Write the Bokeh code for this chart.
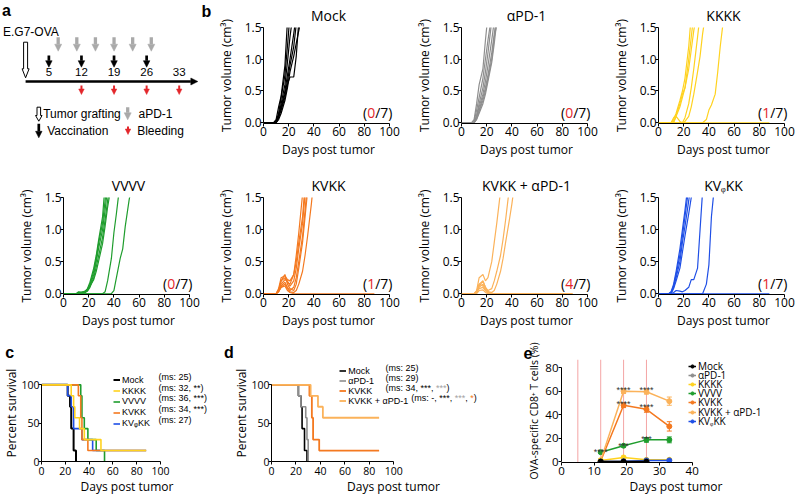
from bokeh.plotting import figure
from bokeh.layouts import column, row
from bokeh.models import (Range1d, Label, Legend, LegendItem, Span, Whisker, TeeHead,
                          ColumnDataSource, FixedTicker, NumeralTickFormatter, Arrow, NormalHead)
from bokeh.core.properties import value
from bokeh.embed import file_html
from bokeh.resources import INLINE

NAN = float("nan")

# ======================= DATA =======================
# panel a : schedule (days)
GRAFT_DAY = 0
VACC_DAYS = [5, 12, 19, 26]
APD1_DAYS = [7, 11, 15, 19, 23, 27]
BLEED_DAYS = [12, 19, 26, 33]
TIMELINE_LABEL_DAYS = [5, 12, 19, 26, 33]
TIMELINE_END_DAY = 37

# panel b : tumour volumes (cm3) per mouse, sampled on TUMOR_DAYS
TUMOR_DAYS = [0, 8, 10, 12, 14, 17, 19, 21, 24, 26, 28, 31, 33, 35, 38, 40, 42, 45, 47, 49, 52,
              56, 59, 63, 66, 70, 73, 77, 80, 84, 88]
MOCK_TUMOR = [
    [0, 0, 0.05, 0.25, 0.42, 0.90, 1.60],
    [0, 0, 0.02, 0.15, 0.40, 0.75, 1.20, 1.70],
    [0, 0, 0.00, 0.10, 0.30, 0.60, 0.95, 1.35, 1.80],
    [0, 0, 0.00, 0.12, 0.25, 0.50, 0.75, 1.00, 1.40, 1.70],
    [0, 0, 0.02, 0.10, 0.22, 0.45, 0.65, 0.90, 1.20, 1.55],
    [0, 0, 0.00, 0.08, 0.20, 0.40, 0.60, 0.72, 0.72, 1.05, 1.60],
    [0, 0, 0.00, 0.05, 0.15, 0.35, 0.55, 0.80, 1.05, 1.25, 1.45, 1.75],
]
APD1_TUMOR = [
    [0, 0, 0.05, 0.30, 0.60, 0.85, 1.30, 1.70],
    [0, 0, 0.02, 0.20, 0.40, 0.70, 1.00, 1.30, 1.70],
    [0, 0, 0.00, 0.12, 0.30, 0.55, 0.80, 1.10, 1.60],
    [0, 0, 0.00, 0.10, 0.25, 0.45, 0.65, 0.90, 1.30, 1.60],
    [0, 0, 0.00, 0.08, 0.20, 0.40, 0.55, 0.75, 1.10, 1.40, 1.70],
    [0, 0, 0.00, 0.05, 0.15, 0.30, 0.45, 0.65, 0.95, 1.25, 1.60],
    [0, 0, 0.00, 0.06, 0.18, 0.35, 0.50, 0.70, 1.00, 1.35, 1.55],
]
KKKK_TUMOR = [
    [0, 0, 0, 0.05, 0.15, 0.35, 0.50, 0.70, 1.20, 1.70],
    [0, 0, 0, 0.08, 0.12, 0.30, 0.45, 0.55, 1.00, 1.35, 1.70],
    [0, 0, 0, 0.02, 0.10, 0.25, 0.40, 0.55, 0.85, 1.15, 1.45, 1.80],
    [0, 0, 0, 0, 0.10, 0.02, 0, 0.08, 0.30, 0.55, 0.85, 1.35, 1.70],
    [0, 0, 0, 0, 0, 0, 0, 0.02, 0.10, 0.25, 0.45, 0.80, 1.05, 1.40, 1.80],
    [0, 0, 0, 0, 0, 0, 0, 0, 0, 0, 0, 0, 0, 0, 0.05, 0.20, 0.28, 0.45, 0.80, 1.20, 1.70],
    [0, 0, 0, 0, 0, 0, 0, 0, 0, 0, 0, 0, 0, 0, 0, 0, 0, 0, 0, 0, 0, 0, 0, 0, 0, 0, 0, 0, 0, 0, 0],
]
VVVV_TUMOR = [
    [0, 0, 0, 0.02, 0.02, 0.03, 0.08, 0.18, 0.40, 0.60, 0.85, 1.20, 1.70],
    [0, 0, 0, 0.03, 0.02, 0.04, 0.07, 0.15, 0.35, 0.55, 0.80, 1.10, 1.45, 1.80],
    [0, 0, 0, 0, 0.01, 0.02, 0.05, 0.12, 0.30, 0.50, 0.72, 1.00, 1.30, 1.65],
    [0, 0, 0, 0, 0, 0.02, 0.04, 0.10, 0.25, 0.42, 0.60, 0.88, 1.15, 1.45, 1.85],
    [0, 0, 0, 0.01, 0.02, 0.03, 0.06, 0.12, 0.22, 0.35, 0.52, 0.78, 1.05, 1.35, 1.70],
    [0, 0, 0, 0, 0, 0, 0, 0, 0, 0, 0, 0, 0.03, 0.20, 0.55, 0.95, 1.25, 1.75],
    [0, 0, 0, 0, 0, 0, 0, 0, 0, 0, 0, 0, 0, 0, 0, 0.05, 0.25, 0.55, 0.70, 1.05, 1.45, 1.90],
]
KVKK_TUMOR = [
    [0, 0, 0, 0.05, 0.20, 0.25, 0.18, 0.15, 0.30, 0.60, 0.95, 1.55],
    [0, 0, 0, 0.08, 0.25, 0.28, 0.22, 0.20, 0.30, 0.50, 0.80, 1.20, 1.70],
    [0, 0, 0, 0.05, 0.15, 0.22, 0.20, 0.12, 0.20, 0.40, 0.70, 1.10, 1.55],
    [0, 0, 0, 0.03, 0.12, 0.18, 0.10, 0.05, 0.10, 0.25, 0.50, 0.90, 1.30, 1.75],
    [0, 0, 0, 0.06, 0.20, 0.30, 0.15, 0.08, 0.05, 0.15, 0.40, 0.80, 1.20, 1.60],
    [0, 0, 0, 0.04, 0.10, 0.15, 0.08, 0.03, 0.02, 0.05, 0.15, 0.35, 0.60, 0.90, 1.40, 1.80],
    [0, 0, 0, 0.03, 0.10, 0.12, 0.05, 0.02, 0, 0, 0, 0, 0, 0, 0, 0, 0, 0, 0, 0, 0, 0, 0, 0, 0, 0, 0, 0, 0, 0, 0],
]
KVKK_APD1_TUMOR = [
    [0, 0, 0, 0.05, 0.25, 0.30, 0.20, 0.25, 0.50, 0.80, 1.10, 1.60],
    [0, 0, 0, 0.03, 0.15, 0.20, 0.10, 0.05, 0.08, 0.20, 0.35, 0.60, 0.85, 1.15, 1.65],
    [0, 0, 0, 0.02, 0.10, 0.15, 0.08, 0.03, 0.02, 0.05, 0.15, 0.35, 0.55, 0.80, 1.15, 1.40, 1.70],
    [0, 0, 0, 0.03, 0.12, 0.20, 0.10, 0.04, 0, 0, 0, 0, 0, 0, 0, 0, 0, 0, 0, 0, 0, 0, 0, 0, 0, 0, 0, 0, 0, 0, 0],
    [0, 0, 0, 0.02, 0.08, 0.10, 0.05, 0, 0, 0, 0, 0, 0, 0, 0, 0, 0, 0, 0, 0, 0, 0, 0, 0, 0, 0, 0, 0, 0, 0, 0],
    [0, 0, 0, 0.04, 0.15, 0.12, 0.06, 0.02, 0, 0, 0, 0, 0, 0, 0, 0, 0, 0, 0, 0, 0, 0, 0, 0, 0, 0, 0, 0, 0, 0, 0],
    [0, 0, 0, 0, 0.05, 0.06, 0.02, 0, 0, 0, 0, 0, 0, 0, 0, 0, 0, 0, 0, 0, 0, 0, 0, 0, 0, 0, 0, 0, 0, 0, 0],
]
KVPHIKK_TUMOR = [
    [0, 0, 0.03, 0.15, 0.35, 0.70, 1.00, 1.30, 1.80],
    [0, 0, 0.02, 0.12, 0.30, 0.60, 0.90, 1.20, 1.65],
    [0, 0, 0.02, 0.10, 0.25, 0.50, 0.80, 1.05, 1.45, 1.75],
    [0, 0, 0, 0.08, 0.20, 0.40, 0.65, 0.90, 1.25, 1.50, 1.80],
    [0, 0, 0, 0.02, 0.05, 0.04, 0.03, 0.05, 0.10, 0.22, 0.22, 0.40, 1.00, 1.60],
    [0, 0, 0, 0, 0, 0, 0, 0, 0, 0, 0, 0, 0, 0, 0.15, 0.45, 1.20, 1.80],
    [0, 0, 0, 0, 0, 0, 0, 0, 0, 0, 0, 0, 0, 0, 0, 0, 0, 0, 0, 0, 0, 0, 0, 0, 0, 0, 0, 0, 0, 0, 0],
]
B_TITLES = ["Mock", "αPD-1", "KKKK", "VVVV", "KVKK", "KVKK + αPD-1", "KVᵩKK"]
B_SURVIVORS = [0, 0, 1, 0, 1, 4, 1]
MICE_PER_GROUP = 7
B_XTICKS = [0, 20, 40, 60, 80, 100]
B_YTICKS = [0, 0.5, 1.0, 1.5]

# panels c, d : Kaplan-Meier survival (days, percent)
SURV_MOCK_T = [0, 22, 24, 25, 27, 29]
SURV_MOCK_P = [100, 85.7, 71.4, 42.9, 14.3, 0]
SURV_APD1_T = [0, 22, 24, 28, 29, 30]
SURV_APD1_P = [100, 85.7, 71.4, 57.1, 28.6, 0]
SURV_KKKK_T = [0, 25, 27, 28, 32, 36, 50, 88]
SURV_KKKK_P = [100, 85.7, 71.4, 57.1, 42.9, 28.6, 14.3, 14.3]
SURV_VVVV_T = [0, 33, 34, 36, 39, 46, 53]
SURV_VVVV_P = [100, 85.7, 57.1, 42.9, 28.6, 14.3, 0]
SURV_KVKK_T = [0, 31, 33, 34, 39, 88]
SURV_KVKK_P = [100, 85.7, 57.1, 28.6, 14.3, 14.3]
SURV_KVKK_APD1_T = [0, 32, 38, 42, 88]
SURV_KVKK_APD1_P = [100, 85.7, 71.4, 57.1, 57.1]
SURV_KVPHIKK_T = [0, 22, 25, 27, 34, 43, 88]
SURV_KVPHIKK_P = [100, 85.7, 71.4, 42.9, 28.6, 14.3, 14.3]
SURV_XTICKS = [0, 20, 40, 60, 80, 100]
SURV_YTICKS = [0, 50, 100]
C_LEGEND = ["Mock", "KKKK", "VVVV", "KVKK", "KVᵩKK"]
C_MS = ["(ms: 25)", "(ms: 32, **)", "(ms: 36, ***)", "(ms: 34, ***)", "(ms: 27)"]
D_LEGEND = ["Mock", "αPD-1", "KVKK", "KVKK + αPD-1"]
D_MS = ["(ms: 25)", "(ms: 29)", "(ms: 34, ***,", "(ms: -, ***,"]

# panel e : OVA-specific CD8+ T cells (%)
E_DAYS = [12, 19, 26, 33]
E_MOCK = [0, 0, 0, NAN]
E_APD1 = [0, 0, 0, NAN]
E_KKKK = [1.0, 3.5, 1.5, 1.5]
E_KKKK_ERR = [0.5, 1.0, 0.5, 0.5]
E_VVVV = [8.0, 13.5, 18.5, 18.5]
E_VVVV_ERR = [1.0, 1.0, 2.0, 2.5]
E_KVKK = [0.5, 48.0, 44.5, 30.0]
E_KVKK_ERR = [0.3, 2.0, 2.5, 4.0]
E_KVKK_APD1 = [1.0, 60.0, 59.5, 51.5]
E_KVKK_APD1_ERR = [0.3, 2.0, 2.0, 3.5]
E_KVPHIKK = [0, 0.3, 1.0, 1.0]
E_KVPHIKK_ERR = [0, 0.2, 0.3, 0.3]
E_STAR_GROUP = ["VVVV", "VVVV", "VVVV", "KVKK", "KVKK", "KVKK + αPD-1", "KVKK + αPD-1"]
E_STAR_DAY = [12, 19, 26, 19, 26, 19, 26]
E_STAR_TEXT = ["****", "***", "***", "****", "****", "****", "****"]
E_XTICKS = [0, 10, 20, 30, 40]
E_YTICKS = [0, 20, 40, 60, 80]

# ======================= STYLE =======================
SANS = "Open Sans"
ARIAL = "Liberation Sans"
COL = {"Mock": "#000000", "αPD-1": "#8e8e8e", "KKKK": "#ffd21f", "VVVV": "#1f9d2d",
       "KVKK": "#f47920", "KVKK + αPD-1": "#fbb25a", "KVᵩKK": "#1f4fe6"}
RED = "#e3262b"
GRAY_ARROW = "#a9a9a9"
STAR_GRAY = "#a3a3a3"

ARIAL_W = {' ': 278, '(': 333, ')': 333, ',': 278, ':': 278, '*': 389, '-': 333, '+': 584,
           'm': 833, 's': 500, 'K': 667, 'V': 667, 'P': 667, 'D': 722, 'α': 579, 'M': 833,
           'o': 556, 'c': 500, 'k': 500}


def text_w(s, px):
    return sum(ARIAL_W.get(ch, 556) for ch in s) / 1000.0 * px


def new_fig(w, h, bl, br, bt, bb, xr, yr, title=None):
    p = figure(title=title, width=w, height=h, x_range=Range1d(*xr), y_range=Range1d(*yr),
               min_border_left=bl, min_border_right=br, min_border_top=bt, min_border_bottom=bb,
               output_backend="svg", toolbar_location=None, align="start")
    p.outline_line_color = None
    p.grid.visible = False
    p.background_fill_color = "white"
    p.border_fill_color = "white"
    return p


def style_axes(p, xticks, yticks, xlab, ylab, tick_size, title_size, xls, xas, yls, yas, xb, yb):
    p.xaxis.ticker = FixedTicker(ticks=xticks)
    p.yaxis.ticker = FixedTicker(ticks=yticks)
    p.xaxis.axis_label = xlab
    p.yaxis.axis_label = ylab
    p.xaxis.bounds = xb
    p.yaxis.bounds = yb
    for ax in list(p.xaxis) + list(p.yaxis):
        ax.axis_line_color = "black"
        ax.axis_line_width = 1
        ax.major_tick_line_color = "black"
        ax.major_tick_out = 3
        ax.major_tick_in = 0
        ax.minor_tick_line_color = None
        ax.major_label_text_font = SANS
        ax.major_label_text_font_size = tick_size
        ax.major_label_text_color = "black"
        ax.axis_label_text_font = SANS
        ax.axis_label_text_font_size = title_size
        ax.axis_label_text_font_style = "normal"
        ax.axis_label_text_color = "black"
    p.xaxis.major_label_standoff = xls
    p.xaxis.axis_label_standoff = xas
    p.yaxis.major_label_standoff = yls
    p.yaxis.axis_label_standoff = yas


def letter_title(p, offset, standoff):
    p.title.text_font = ARIAL
    p.title.text_font_size = "16px"
    p.title.text_font_style = "bold"
    p.title.text_color = "black"
    p.title.align = "left"
    p.title.offset = offset
    p.title.standoff = standoff


def slabel(p, x, y, text, font, size, color="black", align="left", baseline="middle"):
    p.add_layout(Label(x=x, y=y, x_units="screen", y_units="screen", text=text, text_font=font,
                       text_font_size=size, text_color=color, text_align=align,
                       text_baseline=baseline))


def legend_row(p, renderers, text, vx, cy_up, font, size, gw, gh):
    p.add_layout(Legend(items=[LegendItem(label=value(text), renderers=renderers)],
                        location=(vx, cy_up - gh / 2.0), orientation="vertical",
                        padding=0, margin=0, spacing=0, border_line_color=None,
                        background_fill_alpha=0, glyph_width=gw, glyph_height=gh,
                        label_height=gh, label_standoff=2, label_text_font=font,
                        label_text_font_size=size, label_text_color="black",
                        label_text_baseline="middle"))
    return vx + gw + 2


# ======================= PANEL a =======================
A_W, A_H = 213, 168
A_PXD = 4.655
A_DAY0 = 25.1


def a_day(px):
    return (px - A_DAY0) / A_PXD


fa = figure(width=A_W, height=A_H, min_border=0, min_border_left=0, min_border_right=0,
            min_border_top=0, min_border_bottom=0, title=None,
            x_range=Range1d(a_day(0), a_day(A_W)), y_range=Range1d(A_H, 0),
            x_axis_location=None, y_axis_location=None, output_backend="svg",
            toolbar_location=None, align="start")
fa.grid.visible = False
fa.outline_line_color = None


def block_arrow(xc, top, head_y, tip, shaft_w, head_w):
    hs = shaft_w / 2.0 / A_PXD
    hh = head_w / 2.0 / A_PXD
    return ([xc - hs, xc + hs, xc + hs, xc + hh, xc, xc - hh, xc - hs],
            [top, top, head_y, head_y, tip, head_y, head_y])


def arrows(p, xs, y0, y1, color, width, head):
    src = ColumnDataSource(dict(x=xs, y0=[y0] * len(xs), y1=[y1] * len(xs)))
    p.add_layout(Arrow(end=NormalHead(size=head, fill_color=color, line_color=color, line_width=0.5),
                       x_start="x", y_start="y0", x_end="x", y_end="y1", source=src,
                       line_color=color, line_width=width))


gx1, gy1 = block_arrow(GRAFT_DAY, 41.7, 68.3, 77.3, 4.0, 7.0)
gx2, gy2 = block_arrow(a_day(38.3), 106.7, 115.0, 120.7, 3.6, 6.5)
fa.patches(xs=[gx1, gx2], ys=[gy1, gy2], fill_color="white", line_color="black", line_width=1)
arrows(fa, APD1_DAYS, 36.7, 50.7, GRAY_ARROW, 3.3, 7)
arrows(fa, VACC_DAYS, 55.0, 66.7, "black", 2.7, 6.5)
arrows(fa, BLEED_DAYS, 85.0, 94.0, RED, 2.0, 5.5)
arrows(fa, [a_day(127.2)], 106.7, 119.3, GRAY_ARROW, 3.3, 7)
arrows(fa, [a_day(38.3)], 123.3, 137.3, "black", 2.7, 6.5)
arrows(fa, [a_day(127.5)], 126.0, 134.0, RED, 2.0, 5.5)
fa.add_layout(Arrow(end=NormalHead(size=7, fill_color="black", line_color="black", line_width=0.5),
                    x_start=GRAFT_DAY, y_start=81.0, x_end=TIMELINE_END_DAY, y_end=81.0,
                    line_color="black", line_width=2.7))
fa.text(x=TIMELINE_LABEL_DAYS, y=[71.8] * len(TIMELINE_LABEL_DAYS),
        text=[str(d) for d in TIMELINE_LABEL_DAYS], text_align="center", text_baseline="middle",
        text_font=value(ARIAL), text_font_size=value("11.5px"), text_color="black")


def a_text(px, py, text, size="12px", bold=False, align="left"):
    fa.add_layout(Label(x=a_day(px), y=py, text=text, text_font=ARIAL, text_font_size=size,
                        text_align=align, text_baseline="middle", text_color="black",
                        text_font_style="bold" if bold else "normal"))


a_text(6.0, 9.5, "a", size="16px", bold=True, align="center")
a_text(206.0, 10.5, "b", size="16px", bold=True, align="center")
a_text(2.5, 31.7, "E.G7-OVA")
a_text(42.7, 113.3, "Tumor grafting")
a_text(138.0, 113.3, "aPD-1")
a_text(46.7, 130.0, "Vaccination")
a_text(136.7, 130.0, "Bleeding")

# ======================= PANEL b =======================
B_FW = 130           # frame width in px; the 0-100 day axis occupies 126 px of it
B_XMAX = 100 * B_FW / 126.0


def tumor_fig(idx, vols, w, bl, br, h, bt, bb):
    name = B_TITLES[idx]
    p = new_fig(w, h, bl, br, bt, bb, (0, B_XMAX), (-0.012, 1.5), title=name)
    p.title.text_font = SANS
    p.title.text_font_size = "14px"
    p.title.text_font_style = "normal"
    p.title.text_color = "black"
    p.title.align = "center"
    p.title.offset = -2
    p.title.standoff = 6
    xs = [TUMOR_DAYS[:len(v)] for v in vols]
    p.multi_line(xs=xs, ys=vols, line_color=COL[name], line_width=1.2)
    style_axes(p, B_XTICKS, B_YTICKS, "Days post tumor", "Tumor volume (cm³)",
               "12px", "12px", 0, 2, -1, 7, (0, 100), (0, 1.5))
    p.yaxis.formatter = NumeralTickFormatter(format="0.0")
    right = 129.0
    tail = "/%d)" % MICE_PER_GROUP
    w_tail = (0.370 + 0.572 + 0.297) * 14
    w_num = 0.572 * 14 * len(str(B_SURVIVORS[idx]))
    slabel(p, right, 11.0, tail, SANS, "14px", align="right")
    slabel(p, right - w_tail, 11.0, str(B_SURVIVORS[idx]), SANS, "14px", color=RED, align="right")
    slabel(p, right - w_tail - w_num, 11.0, "(", SANS, "14px", align="right")
    return p


f_mock = tumor_fig(0, MOCK_TUMOR, 198, 50, 18, 168, 27, 45)
f_apd1 = tumor_fig(1, APD1_TUMOR, 197, 50, 17, 168, 27, 45)
f_kkkk = tumor_fig(2, KKKK_TUMOR, 190, 50, 10, 168, 27, 45)
f_vvvv = tumor_fig(3, VVVV_TUMOR, 213, 63, 20, 170, 29, 44)
f_kvkk = tumor_fig(4, KVKK_TUMOR, 198, 50, 18, 170, 29, 44)
f_kvap = tumor_fig(5, KVKK_APD1_TUMOR, 197, 50, 17, 170, 29, 44)
f_kvph = tumor_fig(6, KVPHIKK_TUMOR, 190, 50, 10, 170, 29, 44)

# ======================= PANEL c =======================
S_PXU = 0.814            # px per percent on the survival axes
S_FH = 103
S_YMAX = S_FH / S_PXU
S_H, S_BT, S_BB = 159, 26, 30
fc = new_fig(220, S_H, 38, 8, S_BT, S_BB, (0, 174 / 1.21), (0, S_YMAX), title="c")
letter_title(fc, -36.3, 7)
style_axes(fc, SURV_XTICKS, SURV_YTICKS, "Days post tumor", "Percent survival",
           "10.5px", "12px", 2, 0, -1, -2, (0, 100), (0, 100))
c_series = [("Mock", SURV_MOCK_T, SURV_MOCK_P, 2.0), ("VVVV", SURV_VVVV_T, SURV_VVVV_P, 1.6),
            ("KVᵩKK", SURV_KVPHIKK_T, SURV_KVPHIKK_P, 1.6), ("KVKK", SURV_KVKK_T, SURV_KVKK_P, 1.6),
            ("KKKK", SURV_KKKK_T, SURV_KKKK_P, 1.6)]
c_r = {}
for name, t, s, lw in c_series:
    c_r[name] = fc.step(x=t, y=s, mode="after", line_color=COL[name], line_width=lw)
C_ROWS_UP = [81.2, 70.5, 59.8, 49.0, 38.0]
for i, name in enumerate(C_LEGEND):
    legend_row(fc, [c_r[name]], name, 72, C_ROWS_UP[i], ARIAL, "9px", 7, 11)
    slabel(fc, 117, C_ROWS_UP[i] + 3.5, C_MS[i], ARIAL, "9px")

# ======================= PANEL d =======================
fd = new_fig(303, S_H, 51, 8, S_BT, S_BB, (0, 244 / 1.223), (0, S_YMAX), title="d")
letter_title(fd, -47.6, 7)
style_axes(fd, SURV_XTICKS, SURV_YTICKS, "Days post tumor", "Percent survival",
           "10.5px", "12px", 2, 0, -1, -2, (0, 100), (0, 100))
d_series = [("Mock", SURV_MOCK_T, SURV_MOCK_P, 1.6), ("αPD-1", SURV_APD1_T, SURV_APD1_P, 1.6),
            ("KVKK", SURV_KVKK_T, SURV_KVKK_P, 1.8), ("KVKK + αPD-1", SURV_KVKK_APD1_T, SURV_KVKK_APD1_P, 1.8)]
d_r = {}
for name, t, s, lw in d_series:
    d_r[name] = fd.step(x=t, y=s, mode="after", line_color=COL[name], line_width=lw)
D_ROWS_UP = [90.2, 80.2, 70.2, 60.2]
D_SIZE = 9
D_MS_X = 114
D_EXTRA = [[], [],
           [("***", STAR_GRAY, True), (")", "black", False)],
           [("***", STAR_GRAY, True), (",", "black", False), ("*", COL["KVKK"], True), (")", "black", False)]]
for i, name in enumerate(D_LEGEND):
    x0 = legend_row(fd, [d_r[name]], name, 68.3, D_ROWS_UP[i], ARIAL, "%gpx" % D_SIZE, 7, 11)
    x = max(D_MS_X, x0 + text_w(name + " ", D_SIZE))
    ly = D_ROWS_UP[i] + 3.5
    slabel(fd, x, ly, D_MS[i], ARIAL, "%gpx" % D_SIZE)
    x += text_w(D_MS[i], D_SIZE)
    for txt, colr, space in D_EXTRA[i]:
        if space:
            x += text_w(" ", D_SIZE)
        slabel(fd, x, ly, txt, ARIAL, "%gpx" % D_SIZE, color=colr)
        x += text_w(txt, D_SIZE)

# ======================= PANEL e =======================
E_PXU = 1.23
E_YMIN = -0.8
E_FH = 108
fe = new_fig(275, S_H, 38, 8, 21, S_BB, (0, 229 / 3.2675), (E_YMIN, E_YMIN + E_FH / E_PXU), title="e")
letter_title(fe, -38.0, 2)
style_axes(fe, E_XTICKS, E_YTICKS, "Days post tumor", "OVA-specific CD8⁺ T cells (%)",
           "11.5px", "12px", 1, 0, 0, 1, (0, 40), (0, 80))
fe.yaxis.axis_label_text_font_size = "10.5px"
for d in VACC_DAYS:
    fe.add_layout(Span(location=d, dimension="height", line_color="#f4a5a5", line_width=1, level="underlay"))

e_series = [("VVVV", E_VVVV, E_VVVV_ERR), ("KVKK", E_KVKK, E_KVKK_ERR),
            ("KVKK + αPD-1", E_KVKK_APD1, E_KVKK_APD1_ERR), ("KKKK", E_KKKK, E_KKKK_ERR),
            ("KVᵩKK", E_KVPHIKK, E_KVPHIKK_ERR), ("αPD-1", E_APD1, None), ("Mock", E_MOCK, None)]
e_r = {}
e_top = {}
for name, vals, errs in e_series:
    col = COL[name]
    ee = errs if errs is not None else [0] * len(vals)
    src = ColumnDataSource(dict(x=E_DAYS, y=vals, up=[v + e for v, e in zip(vals, ee)],
                                lo=[v - e for v, e in zip(vals, ee)]))
    e_top[name] = [v + e for v, e in zip(vals, ee)]
    rl = fe.line("x", "y", source=src, line_color=col, line_width=1.5)
    rs = fe.scatter("x", "y", source=src, size=5, fill_color=col, line_color=col)
    if errs is not None:
        fe.add_layout(Whisker(source=src, base="x", upper="up", lower="lo", line_color=col, line_width=1,
                              upper_head=TeeHead(size=5, line_color=col, line_width=1),
                              lower_head=TeeHead(size=5, line_color=col, line_width=1)))
    e_r[name] = [rl, rs]
star_y = [e_top[g][E_DAYS.index(d)] for g, d in zip(E_STAR_GROUP, E_STAR_DAY)]
fe.text(x=E_STAR_DAY, y=star_y, text=E_STAR_TEXT, text_align="center", text_baseline="alphabetic",
        text_font=value(ARIAL), text_font_size=value("9px"), text_color="#333333", y_offset=1)
E_ROWS_UP = [95.2, 86.2, 77.0, 67.8, 58.6, 49.5, 40.3]
for i, name in enumerate(["Mock", "αPD-1", "KKKK", "VVVV", "KVKK", "KVKK + αPD-1", "KVᵩKK"]):
    legend_row(fe, e_r[name], name, 127, E_ROWS_UP[i], SANS, "10px", 8, 12)

# ======================= LAYOUT =======================
layout = column(row(column(fa, spacing=0), f_mock, f_apd1, f_kkkk, spacing=0, align="start"),
                row(f_vvvv, f_kvkk, f_kvap, f_kvph, spacing=0, align="start"),
                row(fc, fd, column(fe, spacing=0), spacing=0, align="start"), spacing=0, align="start")
open("out.html", "w").write(file_html(layout, INLINE))
